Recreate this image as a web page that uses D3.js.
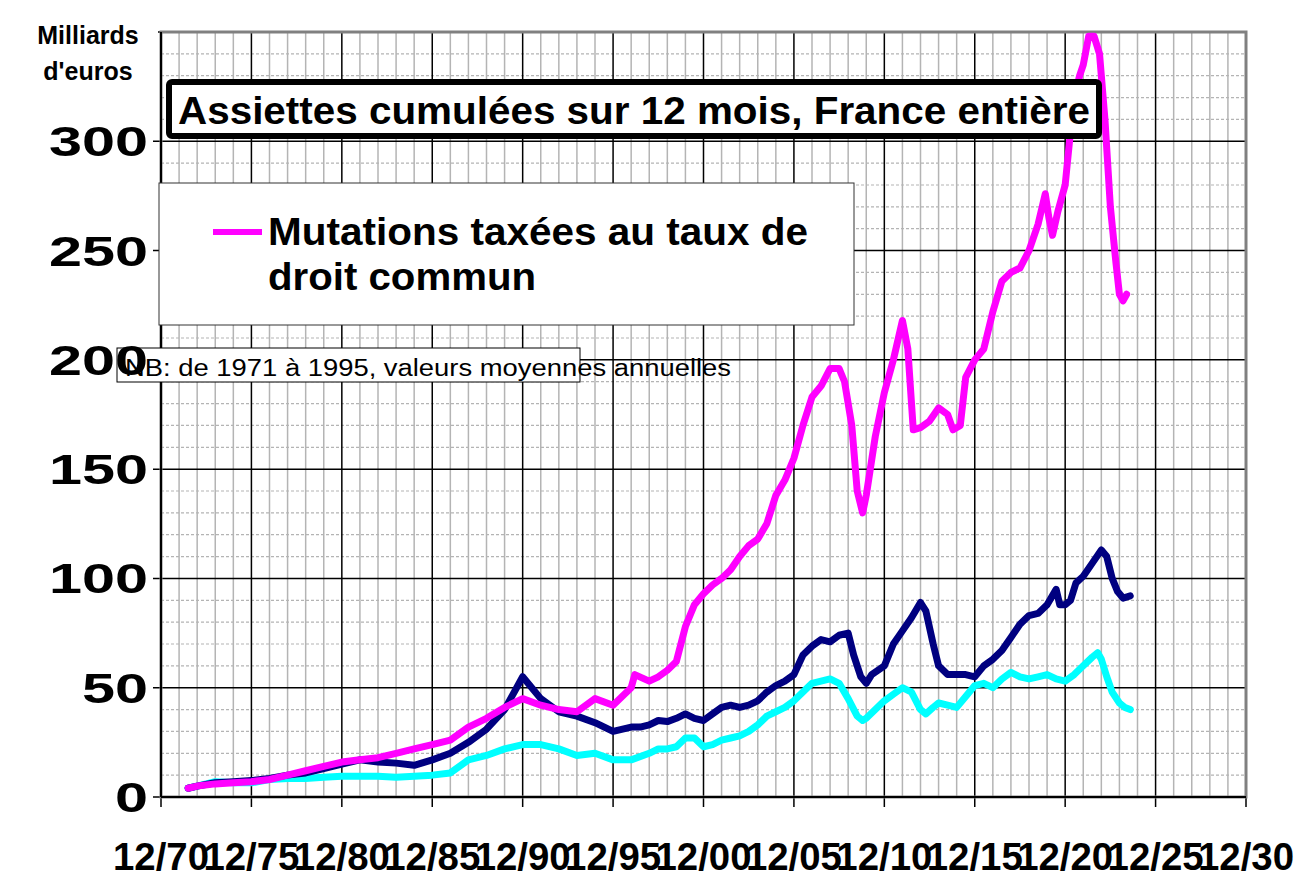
<!DOCTYPE html><html><head><meta charset="utf-8"><script src="https://cdn.jsdelivr.net/npm/d3@7"></script>
<style>body{margin:0;background:#fff}svg{font-family:Arial,"Liberation Sans",sans-serif}</style></head><body><svg id="c" width="1303" height="876"></svg><script>
const xTickLabels=["12/70","12/75","12/80","12/85","12/90","12/95","12/00","12/05","12/10","12/15","12/20","12/25","12/30"];
const yTicks=[0,50,100,150,200,250,300];
const magenta=[[1971.5,4],[1972,5],[1973,6],[1974,6.5],[1975,7],[1976,8],[1977,10],[1978,12],[1979,14],[1980,16],[1981,17],[1982,18],[1983,20],[1984,22],[1985,24],[1986,26],[1987,32],[1988,36],[1989,41],[1990,45],[1991,42],[1992,40],[1993,39],[1994,45],[1995,42],[1996,50],[1996.2,56],[1997,53],[1997.5,55],[1998,58],[1998.5,62],[1999,78],[1999.5,88],[2000,93],[2000.5,97],[2001,100],[2001.5,104],[2002,110],[2002.5,115],[2003,118],[2003.5,125],[2004,138],[2004.5,145],[2005,155],[2005.5,170],[2006,183],[2006.5,188],[2007,196],[2007.5,196],[2007.8,190],[2008.2,170],[2008.5,140],[2008.8,130],[2009,138],[2009.5,165],[2010,185],[2010.5,200],[2011,218],[2011.3,205],[2011.6,168],[2012,169],[2012.5,172],[2013,178],[2013.5,175],[2013.8,168],[2014.2,170],[2014.5,192],[2015,200],[2015.5,205],[2016,222],[2016.5,236],[2017,240],[2017.5,242],[2018,250],[2018.5,262],[2018.9,276],[2019.1,265],[2019.3,257],[2019.6,268],[2020,280],[2020.3,305],[2020.5,320],[2020.8,330],[2021,335],[2021.3,348],[2021.6,348],[2021.9,340],[2022.2,310],[2022.5,270],[2022.8,245],[2023,230],[2023.2,227],[2023.4,230]];
const navy=[[1971.5,4],[1972,5],[1973,6.5],[1974,7],[1975,7.5],[1976,8.5],[1977,10],[1978,11],[1979,13],[1980,15],[1981,17],[1982,16],[1983,15.5],[1984,14.5],[1985,17],[1986,20],[1987,25],[1988,31],[1989,40],[1990,55],[1991,45],[1992,39],[1993,37],[1994,34],[1995,30],[1996,32],[1996.5,32],[1997,33],[1997.5,35],[1998,34.5],[1998.5,36],[1999,38],[1999.5,36],[2000,35],[2000.5,38],[2001,41],[2001.5,42],[2002,41],[2002.5,42],[2003,44],[2003.5,48],[2004,51],[2004.5,53],[2005,56],[2005.5,65],[2006,69],[2006.5,72],[2007,71],[2007.5,74],[2008,75],[2008.3,65],[2008.7,55],[2009,52],[2009.3,56],[2010,60],[2010.5,70],[2011,76],[2011.5,82],[2012,89],[2012.3,85],[2012.7,70],[2013,60],[2013.5,56],[2014,56],[2014.5,56],[2015,55],[2015.5,60],[2016,63],[2016.5,67],[2017,73],[2017.5,79],[2018,83],[2018.5,84],[2019,88],[2019.5,95],[2019.7,88],[2020,88],[2020.3,90],[2020.6,98],[2021,101],[2021.5,107],[2022,113],[2022.3,110],[2022.6,100],[2022.9,94],[2023.2,91],[2023.6,92]];
const cyan=[[1971.5,4],[1972,5],[1973,7],[1974,6.5],[1975,6.5],[1976,8],[1977,8.5],[1978,8.5],[1979,9],[1980,9.5],[1981,9.5],[1982,9.5],[1983,9],[1984,9.5],[1985,10],[1986,11],[1987,17],[1988,19],[1989,22],[1990,24],[1991,24],[1992,22],[1993,19],[1994,20],[1995,17],[1996,17],[1997,20],[1997.5,22],[1998,22],[1998.5,23],[1999,27],[1999.5,27],[2000,23],[2000.5,24],[2001,26],[2001.5,27],[2002,28],[2002.5,30],[2003,33],[2003.5,37],[2004,39],[2004.5,41],[2005,44],[2005.5,48],[2006,52],[2006.5,53],[2007,54],[2007.5,52],[2008,45],[2008.5,37],[2008.8,35],[2009,36],[2009.5,40],[2010,44],[2010.5,47],[2011,50],[2011.5,48],[2012,40],[2012.3,38],[2012.7,41],[2013,43],[2013.5,42],[2014,41],[2014.5,46],[2015,51],[2015.5,52],[2016,50],[2016.5,54],[2017,57],[2017.5,55],[2018,54],[2018.5,55],[2019,56],[2019.5,54],[2020,53],[2020.5,56],[2021,60],[2021.5,64],[2021.8,66],[2022,63],[2022.3,55],[2022.6,48],[2023,43],[2023.3,41],[2023.6,40]];

const svg=d3.select("#c");
const L=161,R=1246,T=32,B=797;
const x=d3.scaleLinear().domain([1970,2030]).range([L,R]);
const y=d3.scaleLinear().domain([0,350]).range([B,T]);
const g=svg.append("g");
for(let yr=1971;yr<2030;yr++){ if(yr%5) g.append("line").attr("x1",x(yr)).attr("x2",x(yr)).attr("y1",T).attr("y2",B).attr("stroke","#b4b4b4").attr("stroke-width",1.5);}
for(let v=10;v<350;v+=10){ if(v%50) g.append("line").attr("x1",L).attr("x2",R).attr("y1",y(v)).attr("y2",y(v)).attr("stroke","#b4b4b4").attr("stroke-dasharray","3,2").attr("stroke-width",1.2);}
xTickLabels.forEach((t,i)=>{const xx=x(1970+5*i); g.append("line").attr("x1",xx).attr("x2",xx).attr("y1",T).attr("y2",B+10).attr("stroke","#000").attr("stroke-width",1.5);
 g.append("text").attr("x",xx).attr("y",870).attr("text-anchor","middle").attr("font-size",38).attr("font-weight","bold").attr("textLength",96).attr("lengthAdjust","spacingAndGlyphs").text(t);});
g.append("line").attr("x1",L-8).attr("x2",R).attr("y1",y(350)).attr("y2",y(350)).attr("stroke","#000").attr("stroke-width",1.5);
yTicks.forEach(v=>g.append("line").attr("x1",L-8).attr("x2",R).attr("y1",y(v)).attr("y2",y(v)).attr("stroke","#000").attr("stroke-width",1.5));
g.append("rect").attr("x",L).attr("y",T).attr("width",R-L).attr("height",B-T).attr("fill","none").attr("stroke","#808080").attr("stroke-width",3);
g.append("line").attr("x1",L).attr("x2",L).attr("y1",T).attr("y2",B).attr("stroke","#000").attr("stroke-width",2);
g.append("line").attr("x1",L).attr("x2",R).attr("y1",B).attr("y2",B).attr("stroke","#000").attr("stroke-width",2);
const line=d3.line().x(d=>x(d[0])).y(d=>y(d[1]));
[[cyan,"#00ffff"],[navy,"#000080"],[magenta,"#ff00ff"]].forEach(([d,c])=>svg.append("path").datum(d).attr("d",line).attr("fill","none").attr("stroke",c).attr("stroke-width",7).attr("stroke-linejoin","round").attr("stroke-linecap","round"));
svg.append("rect").attr("x",18).attr("y",18).attr("width",140).attr("height",70).attr("fill","#fff");
svg.append("text").attr("x",88).attr("y",44).attr("text-anchor","middle").attr("font-size",25).attr("font-weight","bold").text("Milliards");
svg.append("text").attr("x",88).attr("y",80).attr("text-anchor","middle").attr("font-size",25).attr("font-weight","bold").text("d'euros");
svg.append("rect").attr("x",169).attr("y",82).attr("width",930).attr("height",54).attr("fill","#fff").attr("stroke","#000").attr("stroke-width",6).attr("rx",3);
svg.append("text").attr("x",178).attr("y",124).attr("font-size",38).attr("font-weight","bold").attr("textLength",912).attr("lengthAdjust","spacingAndGlyphs").text("Assiettes cumulées sur 12 mois, France entière");
svg.append("rect").attr("x",159).attr("y",183).attr("width",695).attr("height",142).attr("fill","#fff").attr("stroke","#333").attr("stroke-width",1);
svg.append("line").attr("x1",213).attr("x2",262).attr("y1",232).attr("y2",232).attr("stroke","#ff00ff").attr("stroke-width",6);
svg.append("text").attr("x",268).attr("y",245).attr("font-size",38).attr("font-weight","bold").attr("textLength",540).attr("lengthAdjust","spacingAndGlyphs").text("Mutations taxées au taux de");
svg.append("text").attr("x",268).attr("y",290).attr("font-size",38).attr("font-weight","bold").attr("textLength",268).attr("lengthAdjust","spacingAndGlyphs").text("droit commun");
svg.append("rect").attr("x",117).attr("y",348).attr("width",463).attr("height",34).attr("fill","#fff").attr("stroke","#000").attr("stroke-width",1);
yTicks.forEach(v=>svg.append("text").attr("x",148).attr("y",y(v)+15).attr("text-anchor","end").attr("font-size",42).attr("font-weight","bold").attr("textLength",String(v).length*33).attr("lengthAdjust","spacingAndGlyphs").text(v));
svg.append("text").attr("x",125).attr("y",376).attr("font-size",23).attr("textLength",606).attr("lengthAdjust","spacingAndGlyphs").text("NB:  de 1971 à 1995, valeurs moyennes annuelles");
</script></body></html>
